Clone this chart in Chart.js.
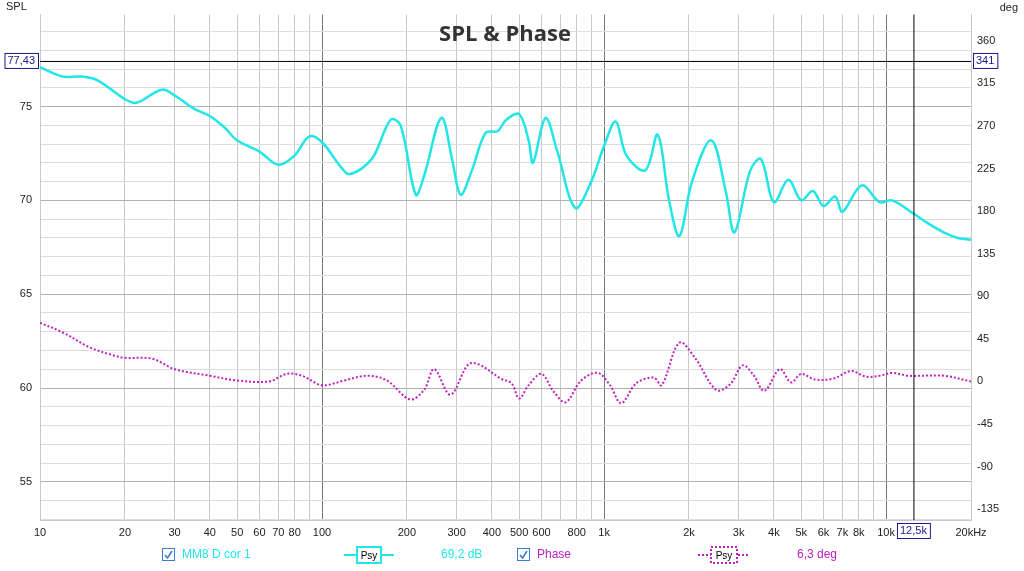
<!DOCTYPE html>
<html><head><meta charset="utf-8">
<script src="https://cdn.jsdelivr.net/npm/chart.js@4"></script>
<style>html,body{margin:0;padding:0;background:#fff}#c{display:block}</style>
</head><body>
<div style="width:1024px;height:571px"><canvas id="c"></canvas></div>
<script>
// data
const splFreq = [10,12,14,16,20,22,27,30,35,40,45,50,60,70,80,90,100,115,125,150,175,190,215,230,265,290,310,340,380,420,450,500,540,560,620,680,790,900,1000,1100,1200,1400,1550,1700,1850,2050,2400,2700,2900,3300,3600,4000,4500,5000,5500,6000,6600,7000,8200,9500,10500,12500,14000,16000,18000,20000];
const splDb = [77.1,76.6,76.6,76.4,75.4,75.2,75.9,75.6,74.9,74.5,73.9,73.2,72.6,71.9,72.4,73.4,73.1,71.9,71.4,72.2,74.3,74.0,70.3,71.3,74.4,72.1,70.3,71.6,73.6,73.7,74.3,74.6,73.2,72.0,74.4,72.7,69.6,71.0,72.9,74.2,72.4,71.6,73.5,70.0,68.1,71.0,73.2,70.5,68.3,71.6,72.2,69.9,71.1,70.0,70.5,69.7,70.2,69.4,70.8,69.9,70.0,69.3,68.8,68.3,68.0,67.9];
const phaseFreq = [10,12,15,18,20,25,30,40,50,65,75,85,100,120,145,170,205,230,250,285,330,360,430,470,500,540,600,660,730,830,950,1050,1150,1300,1500,1600,1850,2100,2500,2800,3100,3400,3700,4200,4600,5000,5600,6500,7500,8500,9500,10500,12000,16000,20000];
const phaseDeg = [62,52,36,28,25,24,13,6,1,0,8,6,-4,1,6,1,-19,-9,13,-14,18,18,3,-2,-18,-4,8,-10,-22,1,9,-4,-23,-2,4,-4,41,25,-9,-3,17,6,-10,13,-1,8,2,3,11,5,6,9,6,6,0];
const xTicks = [10,20,30,40,50,60,70,80,90,100,200,300,400,500,600,700,800,900,1000,2000,3000,4000,5000,6000,7000,8000,9000,10000,20000];
const xLabels = {10:'10',20:'20',30:'30',40:'40',50:'50',60:'60',70:'70',80:'80',100:'100',200:'200',300:'300',400:'400',500:'500',600:'600',800:'800',1000:'1k',2000:'2k',3000:'3k',4000:'4k',5000:'5k',6000:'6k',7000:'7k',8000:'8k',10000:'10k',20000:'20kHz'};
const degTicks = [-135,-90,-45,0,45,90,135,180,225,270,315,360];
const cursorFreq = 12500, cursorDb = 77.43, cursorDeg = 341;

const font = {family:'"Liberation Sans", sans-serif', size:11};
const extras = {
  id:'extras',
  afterDraw(chart){
    const {ctx, chartArea:a, scales:{x, y}} = chart;
    ctx.save();
    // cursor lines
    const cx = x.getPixelForValue(cursorFreq), cy = y.getPixelForValue(cursorDb);
    ctx.strokeStyle = '#000'; ctx.lineWidth = 1;
    ctx.beginPath(); ctx.moveTo(a.left, cy+0.5); ctx.lineTo(a.right, cy+0.5);
    ctx.moveTo(cx+0.5, a.top); ctx.lineTo(cx+0.5, a.bottom); ctx.stroke();
    ctx.font = '11px "Liberation Sans"'; ctx.textBaseline = 'middle';
    const box = (txt, bx, by, align) => {
      const w = ctx.measureText(txt).width + 6;
      const x0 = align === 'right' ? bx - w : align === 'center' ? bx - w/2 : bx;
      ctx.fillStyle = '#fff'; ctx.fillRect(x0, by-8, w, 16);
      ctx.strokeStyle = '#1a1a8c'; ctx.strokeRect(x0+0.5, by-7.5, w, 15);
      ctx.fillStyle = '#1a1a8c'; ctx.textAlign = 'left'; ctx.fillText(txt, x0+3, by);
    };
    box('77,43', 38, cy, 'right');
    box('341', a.right+2, cy, 'left');
    box('12,5k', cx, 531, 'center');
    // title and axis names
    ctx.fillStyle = '#333'; ctx.textAlign = 'center';
    ctx.font = 'bold 22px "Open Sans", sans-serif';
    ctx.fillText('SPL & Phase', 505, 35);
    ctx.font = '11px "Liberation Sans"'; ctx.fillStyle = '#222';
    ctx.textAlign = 'left'; ctx.fillText('SPL', 6, 7);
    ctx.textAlign = 'right'; ctx.fillText('deg', 1018, 8);
    // legend
    const ly = 555;
    const check = (bx) => {
      ctx.strokeStyle = '#3a7bd5'; ctx.lineWidth = 1; ctx.strokeRect(bx+0.5, ly-6.5, 12, 12);
      ctx.beginPath(); ctx.moveTo(bx+3, ly); ctx.lineTo(bx+5.5, ly+3); ctx.lineTo(bx+10, ly-4);
      ctx.lineWidth = 1.6; ctx.stroke();
    };
    check(162); check(517);
    ctx.font = '12px "Liberation Sans"'; ctx.textAlign = 'left';
    ctx.fillStyle = '#22e6e6'; ctx.fillText('MM8 D cor 1', 182, ly);
    ctx.fillText('69,2 dB', 441, ly);
    ctx.fillStyle = '#c020c0'; ctx.fillText('Phase', 537, ly);
    ctx.fillText('6,3 deg', 797, ly);
    // line swatches
    ctx.lineWidth = 2; ctx.strokeStyle = '#22e6e6';
    ctx.beginPath(); ctx.moveTo(344, ly); ctx.lineTo(394, ly); ctx.stroke();
    ctx.fillStyle = '#fff'; ctx.fillRect(357, ly-8, 24, 16);
    ctx.strokeRect(357, ly-8, 24, 16);
    ctx.strokeStyle = '#c020c0'; ctx.setLineDash([2,2]);
    ctx.beginPath(); ctx.moveTo(698, ly); ctx.lineTo(750, ly); ctx.stroke();
    ctx.fillRect(711, ly-8, 26, 16); ctx.strokeRect(711, ly-8, 26, 16);
    ctx.setLineDash([]);
    ctx.font = '10px "Liberation Sans"'; ctx.fillStyle = '#000'; ctx.textAlign = 'center';
    ctx.fillText('Psy', 369, ly+1); ctx.fillText('Psy', 724, ly+1);
    ctx.restore();
  }
};

new Chart(document.getElementById('c'), {
  type: 'scatter',
  data: {
    datasets: [
      {label:'MM8 D cor 1', data: splFreq.map((f,i)=>({x:f, y:splDb[i]})), yAxisID:'y',
       showLine:true, borderColor:'#22e6e6', borderWidth:2.5, pointRadius:0, tension:0.35},
      {label:'Phase', data: phaseFreq.map((f,i)=>({x:f, y:phaseDeg[i]})), yAxisID:'y2',
       showLine:true, borderColor:'#c020c0', borderWidth:2, borderDash:[2,2], pointRadius:0, tension:0.35}
    ]
  },
  options: {
    responsive:true, maintainAspectRatio:false, animation:false,
    layout:{padding:{top:14, left:0, right:0, bottom:0}},
    plugins:{legend:{display:false}, tooltip:{enabled:false}},
    scales:{
      x:{type:'logarithmic', min:10, max:20000,
        afterBuildTicks: s => { s.ticks = xTicks.map(v=>({value:v})); },
        afterFit: s => { s.height = 51; },
        ticks:{autoSkip:false, maxRotation:0, color:'#222', font, padding:6,
          callback: v => xLabels[v] || ''},
        grid:{color: c => [10,100,1000,10000].includes(c.tick && c.tick.value) ? '#777' : '#c8c8c8', drawTicks:false},
        border:{color:'#c8c8c8'}},
      y:{position:'left', min:52.97, max:79.9,
        afterBuildTicks: s => { const t=[]; for(let v=53; v<=79; v++) t.push({value:v}); s.ticks=t; },
        afterFit: s => { s.width = 40; },
        ticks:{autoSkip:false, color:'#222', font, padding:8, callback: v => v % 5 === 0 ? String(v) : ''},
        grid:{color: c => c.tick && c.tick.value % 5 === 0 ? '#b0b0b0' : '#dcdcdc', drawTicks:false},
        border:{color:'#c8c8c8'}},
      y2:{position:'right', min:-146.5, max:387.8,
        afterBuildTicks: s => { s.ticks = degTicks.map(v=>({value:v})); },
        afterFit: s => { s.width = 53; },
        ticks:{autoSkip:false, color:'#222', font, padding:6},
        grid:{display:false, drawTicks:false},
        border:{color:'#c8c8c8'}}
    }
  },
  plugins:[extras]
});
</script>
</body></html>
